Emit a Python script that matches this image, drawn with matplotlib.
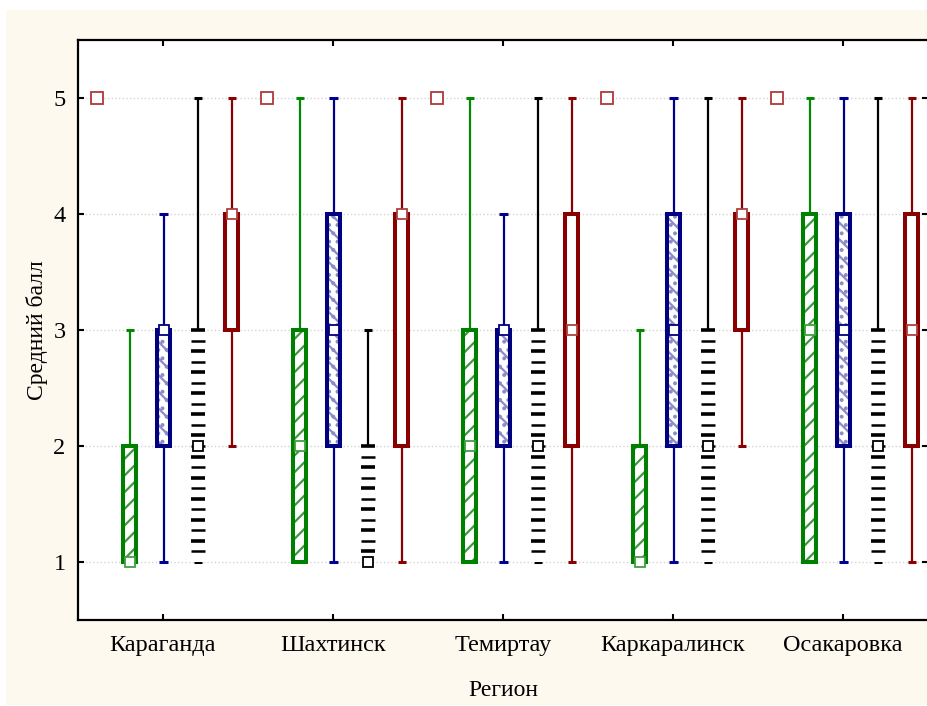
import numpy as np
import matplotlib.pyplot as plt
from matplotlib.patches import Rectangle

plt.rcParams['font.family'] = ['Liberation Serif', 'DejaVu Serif']
plt.rcParams['hatch.linewidth'] = 1.6

regions = ['Караганда', 'Шахтинск', 'Темиртау', 'Каркаралинск', 'Осакаровка']

# five-number summaries per series (one value per region)
green_min = [1, 1, 1, 1, 1]
green_q1 = [1, 1, 1, 1, 1]
green_med = [1, 2, 2, 1, 3]
green_q3 = [2, 3, 3, 2, 4]
green_max = [3, 5, 5, 3, 5]

blue_min = [1, 1, 1, 1, 1]
blue_q1 = [2, 2, 2, 2, 2]
blue_med = [3, 3, 3, 3, 3]
blue_q3 = [3, 4, 3, 4, 4]
blue_max = [4, 5, 4, 5, 5]

black_min = [1, 1, 1, 1, 1]
black_q1 = [1, 1, 1, 1, 1]
black_med = [2, 1, 2, 2, 2]
black_q3 = [3, 2, 3, 3, 3]
black_max = [5, 3, 5, 5, 5]

red_min = [2, 1, 1, 2, 1]
red_q1 = [3, 2, 2, 3, 2]
red_med = [4, 4, 3, 4, 3]
red_q3 = [4, 4, 4, 4, 4]
red_max = [5, 5, 5, 5, 5]

outliers = [5, 5, 5, 5, 5]

fig = plt.figure(figsize=(9.28, 7.06), dpi=100)
fig.patches.append(Rectangle((6 / 928, 1 / 706), 1 - 6 / 928, 695 / 706,
                             transform=fig.transFigure, facecolor='#fdf9ef',
                             edgecolor='none', zorder=-10))
ax = fig.add_axes([78 / 928, 1 - 620 / 706, 850 / 928, 580 / 706])

x = np.arange(len(regions))
bw = 0.077   # box width
cw = 0.024   # half cap width


def whiskers(xs, mn, q1, q3, mx, color):
    ax.vlines(xs, q3, mx, color=color, lw=1.6, zorder=2)
    ax.vlines(xs, mn, q1, color=color, lw=1.6, zorder=2)
    ax.hlines(mx, xs - cw, xs + cw, color=color, lw=2.2, zorder=2)
    ax.hlines(mn, xs - cw, xs + cw, color=color, lw=2.2, zorder=2)


def boxes(xs, q1, q3, color, hatch=None, hcolor=None):
    for xi, a, b in zip(xs, q1, q3):
        if hatch:
            ax.add_patch(Rectangle((xi - bw / 2, a), bw, b - a, facecolor='white',
                                   edgecolor=hcolor, hatch=hatch, lw=0, zorder=3))
        else:
            ax.add_patch(Rectangle((xi - bw / 2, a), bw, b - a, facecolor='white',
                                   edgecolor='none', zorder=3))
        ax.add_patch(Rectangle((xi - bw / 2, a), bw, b - a, fill=False,
                               edgecolor=color, lw=2.9, zorder=4))


def medians(xs, med, ec):
    ax.plot(xs, med, 's', ms=7, mfc='white', mec=ec, mew=1.3, ls='none', zorder=6)


# green series
xg = x - 0.195
whiskers(xg, np.array(green_min), np.array(green_q1), np.array(green_q3),
         np.array(green_max), '#008a00')
boxes(xg, green_q1, green_q3, '#008000', hatch='//', hcolor='#3f9a3f')
medians(xg, green_med, '#40a040')

# blue series
xb = x + 0.003
whiskers(xb, np.array(blue_min), np.array(blue_q1), np.array(blue_q3),
         np.array(blue_max), '#000090')
boxes(xb, blue_q1, blue_q3, '#000080', hatch='\\\\..', hcolor='#8c8cc8')
medians(xb, blue_med, '#000080')

# black series (striped box, no outline)
xk = x + 0.205
whiskers(xk, np.array(black_min), np.array(black_q1), np.array(black_q3),
         np.array(black_max), 'black')
for xi, a, b in zip(xk, black_q1, black_q3):
    ys = np.arange(b, a + 0.04, -1 / 11)
    ax.add_patch(Rectangle((xi - 0.045, a), 0.09, b - a, facecolor='white',
                           edgecolor='none', zorder=3))
    ax.hlines(ys[0::2], xi - 0.041, xi + 0.041, color='black', lw=2.6, zorder=4)
    ax.hlines(ys[1::2], xi - 0.041, xi + 0.041, color='black', lw=1.8, zorder=4)
medians(xk, black_med, 'black')

# red series
xr = x + 0.405
whiskers(xr, np.array(red_min), np.array(red_q1), np.array(red_q3),
         np.array(red_max), '#8b0000')
boxes(xr, red_q1, red_q3, '#880000')
medians(xr, red_med, '#b04040')

# outliers
ax.plot(x - 0.39, outliers, 's', ms=8, mfc='white', mec='#b03838', mew=1.3,
        ls='none', zorder=6)

ax.set_xlim(-0.5, 4.5)
ax.set_ylim(0.5, 5.5)
ax.set_xticks(x)
ax.set_xticklabels(regions)
ax.set_yticks([1, 2, 3, 4, 5])
ax.yaxis.grid(True, color='#d4d4d4', ls=':', lw=1.0, zorder=0)
ax.set_axisbelow(True)
ax.tick_params(axis='both', direction='in', top=True, right=True,
               length=4, width=1.5, labelsize=17.5)
ax.tick_params(axis='x', pad=11)
ax.tick_params(axis='y', pad=9)
for s in ax.spines.values():
    s.set_linewidth(1.6)
ax.spines['right'].set_visible(False)
ax.set_xlabel('Регион', fontsize=17, labelpad=17)
ax.set_ylabel('Средний балл', fontsize=17, labelpad=4)

fig.savefig('out.png', dpi=100)
